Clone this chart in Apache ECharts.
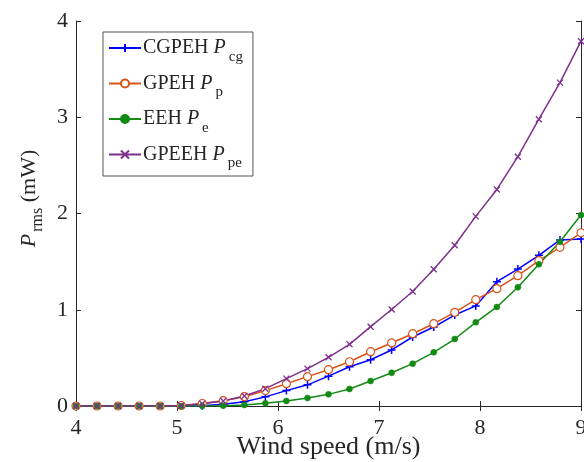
<!DOCTYPE html>
<html>
<head>
<meta charset="utf-8">
<script src="https://cdn.jsdelivr.net/npm/echarts@6/dist/echarts.min.js"></script>
<style>
  html, body { margin: 0; padding: 0; background: #fff; }
  #chart { width: 584px; height: 462px; }
</style>
</head>
<body>
<div id="chart"></div>
<script>
// wind speed (m/s)
const windSpeed = [4.000, 4.208, 4.417, 4.625, 4.833, 5.042, 5.250, 5.458, 5.667, 5.875, 6.083, 6.292, 6.500,
  6.708, 6.917, 7.125, 7.333, 7.542, 7.750, 7.958, 8.167, 8.375, 8.583, 8.792, 9.000];

// P_rms (mW)
const cgpeh = [0, 0, 0, 0, 0, 0, 0.003, 0.017, 0.045, 0.095, 0.16, 0.22, 0.31, 0.408, 0.48, 0.582, 0.717,
  0.821, 0.945, 1.04, 1.292, 1.423, 1.566, 1.725, 1.735];
const gpeh = [0, 0, 0, 0, 0, 0.005, 0.026, 0.055, 0.097, 0.16, 0.232, 0.305, 0.377, 0.46, 0.564, 0.655, 0.751,
  0.855, 0.973, 1.105, 1.219, 1.354, 1.51, 1.649, 1.80];
const eeh = [0, 0, 0, 0, 0, 0, 0, 0.003, 0.01, 0.028, 0.052, 0.083, 0.121, 0.177, 0.26, 0.345, 0.44,
  0.558, 0.696, 0.869, 1.029, 1.233, 1.472, 1.707, 1.984];
const gpeeh = [0, 0, 0, 0, 0, 0.005, 0.024, 0.052, 0.104, 0.18, 0.284, 0.388, 0.506, 0.641, 0.824, 1.003, 1.19,
  1.42, 1.67, 1.97, 2.25, 2.59, 2.98, 3.36, 3.79];

const seriesNames = ["CGPEH P_cg", "GPEH P_p", "EEH P_e", "GPEEH P_pe"];
const legendLabels = {
  "CGPEH P_cg": ["CGPEH ", "cg"],
  "GPEH P_p": ["GPEH ", "p"],
  "EEH P_e": ["EEH ", "e"],
  "GPEEH P_pe": ["GPEEH ", "pe"],
};

const font = "'Liberation Serif', 'DejaVu Serif', serif";
const ink = "#262626";

const rich = {
  n: { fontFamily: font, fontSize: 20, color: ink },
  i: { fontFamily: font, fontSize: 20, fontStyle: "italic", color: ink },
  s: { fontFamily: font, fontSize: 15, color: ink, padding: [18, 0, 0, 3] },
};

const pair = (ys) => ys.map((y, k) => [windSpeed[k], y]);

const plus = "path://M5,0 L5,10 M0,5 L10,5";
const cross = "path://M0,0 L10,10 M10,0 L0,10";

function lineSeries(name, ys, color, symbol, size, itemStyle) {
  return {
    name,
    type: "line",
    data: pair(ys),
    symbol,
    symbolSize: size,
    smooth: false,
    lineStyle: { color, width: 1.5 },
    itemStyle,
    color,
  };
}

const chart = echarts.init(document.getElementById("chart"));

const tickStyle = { show: true, inside: true, length: 5, lineStyle: { color: ink } };
const axisLine = { show: true, lineStyle: { color: ink, width: 1 } };

const options = {
  animation: false,
  grid: { left: 76, right: 3, top: 21, bottom: 56, outerBoundsMode: "none" },
  legend: {
    orient: "vertical",
    left: 103,
    top: 32,
    padding: [6, 10, 5, 5],
    itemGap: 9,
    itemWidth: 32,
    itemHeight: 10,
    backgroundColor: "#fff",
    borderColor: "#555",
    borderWidth: 1,
    data: seriesNames,
    formatter: (name) => {
      const [main, sub] = legendLabels[name];
      return `{n|${main}}{i|P}{s|${sub}}`;
    },
    textStyle: { rich, padding: [0, 0, 0, -3] },
  },
  xAxis: [
    {
      type: "value",
      min: 4,
      max: 9,
      interval: 1,
      name: "Wind speed (m/s)",
      nameLocation: "middle",
      nameGap: 28,
      nameMoveOverlap: false,
      nameTextStyle: { fontFamily: font, fontSize: 26, color: ink },
      axisLine,
      axisTick: tickStyle,
      axisLabel: { fontFamily: font, fontSize: 22, color: ink, margin: 11 },
      splitLine: { show: false },
    },
    {
      type: "value",
      position: "top",
      min: 4,
      max: 9,
      interval: 1,
      axisLine,
      axisTick: tickStyle,
      axisLabel: { show: false },
      splitLine: { show: false },
    },
  ],
  yAxis: [
    {
      type: "value",
      min: 0,
      max: 4,
      interval: 1,
      name: "{i|P}{s|rms}{n| (mW)}",
      nameLocation: "middle",
      nameGap: 30,
      nameMoveOverlap: false,
      nameTextStyle: {
        padding: [0, 0, 0, 30],
        rich: {
          n: { fontFamily: font, fontSize: 22, color: ink },
          i: { fontFamily: font, fontSize: 22, fontStyle: "italic", color: ink },
          s: { fontFamily: font, fontSize: 16, color: ink, padding: [18, 0, 0, 2] },
        },
      },
      axisLine,
      axisTick: tickStyle,
      axisLabel: { fontFamily: font, fontSize: 22, color: ink, margin: 8 },
      splitLine: { show: false },
    },
    {
      type: "value",
      position: "right",
      min: 0,
      max: 4,
      interval: 1,
      axisLine,
      axisTick: tickStyle,
      axisLabel: { show: false },
      splitLine: { show: false },
    },
  ],
  series: [
    lineSeries(seriesNames[0], cgpeh, "#0000ff", plus, 8,
      { color: "#0000ff", borderColor: "#0000ff", borderWidth: 1.5 }),
    lineSeries(seriesNames[1], gpeh, "#d95319", "circle", 8,
      { color: "#fff", borderColor: "#d95319", borderWidth: 1.2 }),
    lineSeries(seriesNames[2], eeh, "#138a13", "circle", 6,
      { color: "#138a13", borderColor: "#138a13", borderWidth: 0.5 }),
    lineSeries(seriesNames[3], gpeeh, "#7e2f8e", cross, 6,
      { color: "#7e2f8e", borderColor: "#7e2f8e", borderWidth: 1.3 }),
  ],
};

chart.setOption(options);
</script>
</body>
</html>
